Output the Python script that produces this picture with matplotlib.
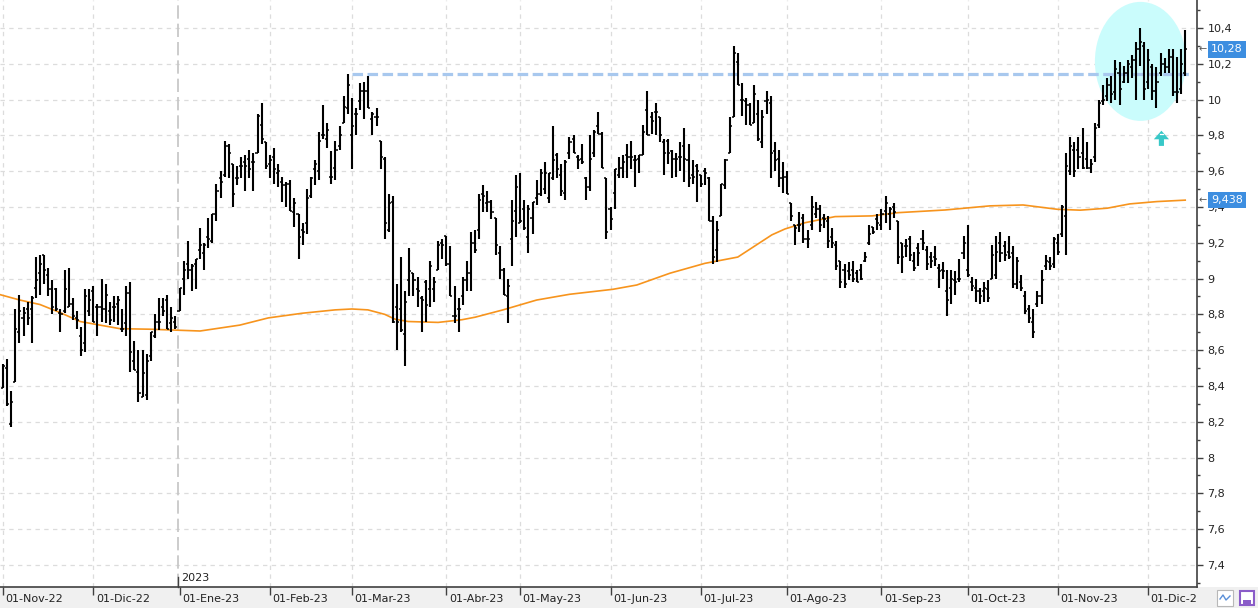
import matplotlib
matplotlib.use("Agg")
import matplotlib.pyplot as plt
from matplotlib.patches import Ellipse, FancyArrow, Rectangle
import numpy as np
import pandas as pd

# sesiones (BME): dias habiles sin festivos
festivos = ["2022-12-26", "2023-04-07", "2023-04-10", "2023-05-01"]
fechas = pd.bdate_range("2022-11-01", "2023-12-14")
fechas = fechas[~fechas.isin(pd.to_datetime(festivos))]

maximos = [
    8.52, 8.55, 8.37, 8.83, 8.91, 8.84, 8.87, 8.90, 9.12, 9.13, 9.13, 9.06, 8.99, 8.95, 8.83, 9.05, 9.06, 8.89, 8.82, 8.73,
    8.94, 8.94, 8.96, 8.86, 9.00, 8.97, 8.87, 8.90, 8.90, 8.83, 8.96, 8.98, 8.65, 8.60, 8.60, 8.58, 8.70, 8.80, 8.89, 8.89,
    8.91, 8.84, 8.79, 8.95, 9.10, 9.21, 9.08, 9.11, 9.28, 9.20, 9.34, 9.36, 9.53, 9.60, 9.77, 9.75, 9.64, 9.63, 9.68, 9.69,
    9.72, 9.70, 9.92, 9.98, 9.76, 9.69, 9.73, 9.64, 9.57, 9.54, 9.55, 9.45, 9.36, 9.31, 9.50, 9.57, 9.66, 9.82, 9.97, 9.87,
    9.71, 9.77, 9.85, 10.02, 10.14, 10.01, 9.95, 10.09, 10.10, 10.13, 9.93, 9.95, 9.77, 9.68, 9.47, 9.46, 8.97, 9.12, 8.93, 9.17,
    9.03, 9.01, 8.90, 8.99, 9.10, 9.01, 9.21, 9.22, 9.24, 9.18, 8.96, 8.89, 9.01, 9.10, 9.26, 9.27, 9.47, 9.52, 9.49, 9.44,
    9.34, 9.18, 9.06, 9.00, 9.44, 9.58, 9.59, 9.44, 9.41, 9.43, 9.55, 9.61, 9.65, 9.59, 9.85, 9.70, 9.64, 9.66, 9.79, 9.80,
    9.69, 9.75, 9.57, 9.80, 9.83, 9.93, 9.82, 9.56, 9.40, 9.61, 9.68, 9.69, 9.75, 9.77, 9.69, 9.69, 9.86, 10.05, 9.93, 9.98,
    9.90, 9.78, 9.78, 9.72, 9.70, 9.76, 9.84, 9.75, 9.66, 9.64, 9.58, 9.62, 9.57, 9.35, 9.32, 9.53, 9.67, 9.90, 10.30, 10.26,
    10.09, 10.01, 9.98, 10.08, 10.00, 9.94, 10.05, 10.02, 9.76, 9.72, 9.65, 9.60, 9.42, 9.30, 9.37, 9.36, 9.27, 9.46, 9.43, 9.41,
    9.36, 9.35, 9.28, 9.21, 9.10, 9.08, 9.09, 9.10, 9.05, 9.08, 9.15, 9.30, 9.29, 9.36, 9.39, 9.46, 9.40, 9.42, 9.32, 9.20,
    9.22, 9.24, 9.15, 9.20, 9.27, 9.18, 9.15, 9.18, 9.08, 9.09, 9.05, 9.05, 9.04, 9.11, 9.24, 9.30, 9.01, 9.00, 8.95, 8.98,
    8.99, 9.19, 9.24, 9.26, 9.21, 9.24, 9.18, 9.12, 9.02, 8.93, 8.85, 8.83, 8.93, 9.05, 9.13, 9.12, 9.23, 9.25, 9.41, 9.70,
    9.79, 9.76, 9.79, 9.84, 9.76, 9.67, 9.87, 10.00, 10.08, 10.12, 10.13, 10.22, 10.21, 10.19, 10.22, 10.25, 10.32, 10.40, 10.32, 10.28,
    10.20, 10.18, 10.26, 10.23, 10.28, 10.28, 10.24, 10.28, 10.39,
]
minimos = [
    8.39, 8.29, 8.17, 8.42, 8.64, 8.68, 8.74, 8.64, 8.89, 8.91, 8.97, 8.90, 8.80, 8.82, 8.70, 8.81, 8.84, 8.77, 8.72, 8.57,
    8.59, 8.79, 8.76, 8.68, 8.76, 8.75, 8.74, 8.76, 8.74, 8.70, 8.68, 8.48, 8.49, 8.31, 8.34, 8.32, 8.54, 8.67, 8.71, 8.79,
    8.72, 8.70, 8.72, 8.82, 8.91, 9.00, 8.93, 8.94, 9.11, 9.05, 9.17, 9.20, 9.32, 9.45, 9.57, 9.56, 9.40, 9.52, 9.56, 9.49,
    9.56, 9.49, 9.70, 9.75, 9.61, 9.56, 9.53, 9.51, 9.43, 9.40, 9.38, 9.29, 9.11, 9.19, 9.25, 9.45, 9.52, 9.55, 9.78, 9.73,
    9.53, 9.55, 9.72, 9.87, 9.92, 9.61, 9.80, 9.94, 9.89, 9.95, 9.80, 9.85, 9.61, 9.22, 9.26, 8.75, 8.60, 8.70, 8.51, 8.90,
    8.90, 8.84, 8.70, 8.76, 8.84, 8.87, 9.05, 9.11, 9.07, 8.90, 8.75, 8.70, 8.85, 8.93, 8.93, 9.14, 9.22, 9.37, 9.37, 9.33,
    9.13, 9.00, 8.91, 8.75, 9.07, 9.23, 9.31, 9.27, 9.14, 9.25, 9.41, 9.46, 9.47, 9.42, 9.55, 9.56, 9.46, 9.44, 9.67, 9.70,
    9.61, 9.64, 9.44, 9.49, 9.68, 9.81, 9.62, 9.22, 9.27, 9.39, 9.56, 9.56, 9.56, 9.61, 9.51, 9.59, 9.69, 9.80, 9.81, 9.80,
    9.76, 9.58, 9.64, 9.56, 9.57, 9.60, 9.54, 9.51, 9.53, 9.43, 9.51, 9.52, 9.32, 9.08, 9.09, 9.35, 9.50, 9.70, 9.90, 10.08,
    9.91, 9.86, 9.86, 9.87, 9.77, 9.73, 9.92, 9.56, 9.60, 9.51, 9.48, 9.47, 9.32, 9.19, 9.26, 9.20, 9.17, 9.27, 9.34, 9.26,
    9.28, 9.17, 9.17, 9.05, 8.95, 8.95, 8.99, 8.98, 8.98, 8.99, 9.09, 9.19, 9.25, 9.27, 9.27, 9.31, 9.27, 9.34, 9.08, 9.03,
    9.12, 9.10, 9.04, 9.07, 9.16, 9.05, 9.06, 9.07, 8.95, 9.00, 8.79, 8.86, 8.91, 8.98, 9.11, 9.01, 8.93, 8.87, 8.86, 8.87,
    8.87, 9.00, 9.00, 9.09, 9.10, 9.11, 8.95, 8.94, 8.93, 8.80, 8.75, 8.67, 8.84, 8.86, 9.05, 9.05, 9.06, 9.13, 9.23, 9.13,
    9.58, 9.57, 9.61, 9.61, 9.61, 9.59, 9.65, 9.84, 9.97, 9.99, 9.98, 10.00, 9.97, 10.09, 10.09, 10.12, 10.00, 10.19, 10.00, 10.06,
    10.00, 9.95, 10.13, 10.15, 10.15, 10.02, 9.98, 10.03, 10.13,
]
aperturas = [
    8.39, 8.50, 8.19, 8.42, 8.70, 8.78, 8.83, 8.83, 8.95, 9.03, 9.13, 9.02, 8.94, 8.94, 8.81, 8.82, 8.84, 8.86, 8.78, 8.68,
    8.64, 8.82, 8.93, 8.84, 8.84, 8.83, 8.82, 8.84, 8.86, 8.72, 8.75, 8.92, 8.54, 8.48, 8.34, 8.35, 8.57, 8.68, 8.76, 8.84,
    8.88, 8.75, 8.76, 8.82, 9.00, 9.08, 9.05, 9.08, 9.16, 9.14, 9.23, 9.21, 9.36, 9.56, 9.58, 9.74, 9.64, 9.56, 9.63, 9.65,
    9.67, 9.65, 9.70, 9.86, 9.76, 9.64, 9.68, 9.59, 9.54, 9.52, 9.53, 9.37, 9.36, 9.27, 9.31, 9.46, 9.61, 9.60, 9.80, 9.78,
    9.57, 9.62, 9.74, 9.87, 9.95, 9.80, 9.92, 9.99, 10.05, 10.05, 9.89, 9.90, 9.77, 9.67, 9.27, 9.43, 8.84, 8.83, 8.69, 8.99,
    9.03, 8.94, 8.89, 8.98, 8.94, 8.94, 9.05, 9.20, 9.24, 9.08, 8.79, 8.83, 8.90, 8.99, 9.03, 9.20, 9.27, 9.47, 9.42, 9.43,
    9.34, 9.14, 9.05, 8.90, 9.22, 9.38, 9.31, 9.39, 9.23, 9.34, 9.45, 9.47, 9.50, 9.45, 9.56, 9.69, 9.58, 9.48, 9.70, 9.78,
    9.68, 9.67, 9.56, 9.51, 9.70, 9.85, 9.81, 9.56, 9.39, 9.48, 9.58, 9.62, 9.69, 9.68, 9.66, 9.67, 9.69, 9.94, 9.90, 9.93,
    9.90, 9.76, 9.77, 9.71, 9.67, 9.68, 9.74, 9.66, 9.58, 9.63, 9.58, 9.60, 9.56, 9.32, 9.16, 9.35, 9.52, 9.70, 9.90, 10.21,
    10.00, 9.99, 9.97, 9.87, 9.92, 9.76, 9.99, 9.98, 9.71, 9.67, 9.56, 9.57, 9.42, 9.30, 9.30, 9.34, 9.22, 9.30, 9.36, 9.39,
    9.34, 9.32, 9.23, 9.19, 9.10, 9.05, 9.04, 9.05, 9.03, 9.05, 9.10, 9.20, 9.29, 9.33, 9.30, 9.38, 9.36, 9.40, 9.32, 9.20,
    9.18, 9.22, 9.10, 9.17, 9.22, 9.16, 9.12, 9.12, 9.06, 9.05, 8.93, 8.95, 8.99, 9.00, 9.14, 9.05, 8.98, 8.95, 8.93, 8.93,
    8.94, 9.00, 9.02, 9.20, 9.18, 9.15, 9.14, 8.97, 8.98, 8.90, 8.83, 8.76, 8.86, 8.90, 9.07, 9.09, 9.08, 9.20, 9.25, 9.35,
    9.60, 9.72, 9.72, 9.70, 9.67, 9.62, 9.68, 9.86, 9.99, 10.02, 10.08, 10.04, 10.15, 10.10, 10.15, 10.18, 10.22, 10.28, 10.30, 10.10,
    10.18, 10.05, 10.15, 10.20, 10.18, 10.24, 10.04, 10.06, 10.15,
]
cierres = [
    8.51, 8.30, 8.31, 8.72, 8.82, 8.81, 8.78, 8.89, 8.99, 9.08, 9.05, 8.94, 8.84, 8.83, 8.80, 8.94, 8.86, 8.79, 8.77, 8.60,
    8.90, 8.88, 8.76, 8.84, 8.83, 8.91, 8.77, 8.84, 8.88, 8.72, 8.92, 8.59, 8.49, 8.36, 8.47, 8.54, 8.70, 8.76, 8.76, 8.82,
    8.72, 8.78, 8.73, 8.95, 9.05, 9.05, 9.07, 9.11, 9.19, 9.19, 9.22, 9.36, 9.49, 9.54, 9.74, 9.70, 9.47, 9.56, 9.63, 9.63,
    9.61, 9.65, 9.91, 9.78, 9.63, 9.66, 9.61, 9.60, 9.52, 9.53, 9.38, 9.42, 9.23, 9.26, 9.45, 9.56, 9.64, 9.77, 9.80, 9.83,
    9.57, 9.72, 9.80, 9.96, 10.08, 9.85, 9.92, 10.05, 10.05, 9.95, 9.92, 9.90, 9.68, 9.31, 9.42, 8.76, 8.76, 8.71, 8.87, 9.04,
    8.99, 8.93, 8.88, 8.85, 9.07, 8.98, 9.19, 9.19, 9.08, 8.90, 8.79, 8.83, 8.99, 9.03, 9.20, 9.16, 9.44, 9.46, 9.43, 9.37,
    9.19, 9.05, 8.91, 8.96, 9.32, 9.51, 9.32, 9.28, 9.39, 9.43, 9.47, 9.59, 9.59, 9.59, 9.66, 9.61, 9.49, 9.65, 9.76, 9.70,
    9.66, 9.65, 9.51, 9.67, 9.82, 9.81, 9.62, 9.26, 9.33, 9.61, 9.62, 9.65, 9.68, 9.68, 9.66, 9.69, 9.82, 9.80, 9.88, 9.93,
    9.80, 9.70, 9.70, 9.67, 9.67, 9.68, 9.67, 9.56, 9.57, 9.60, 9.53, 9.59, 9.32, 9.12, 9.27, 9.53, 9.66, 9.85, 10.26, 10.08,
    10.00, 9.97, 9.86, 10.03, 9.78, 9.90, 10.00, 9.70, 9.66, 9.56, 9.57, 9.47, 9.35, 9.28, 9.30, 9.22, 9.22, 9.40, 9.39, 9.30,
    9.33, 9.21, 9.20, 9.07, 8.98, 8.97, 9.02, 9.00, 8.98, 9.00, 9.12, 9.25, 9.26, 9.31, 9.36, 9.42, 9.39, 9.37, 9.12, 9.12,
    9.18, 9.13, 9.06, 9.14, 9.20, 9.08, 9.10, 9.11, 9.04, 9.04, 8.88, 9.00, 8.98, 9.00, 9.20, 9.02, 8.96, 8.93, 8.90, 8.95,
    8.89, 9.13, 9.15, 9.14, 9.13, 9.12, 8.97, 9.10, 8.95, 8.82, 8.78, 8.70, 8.90, 8.99, 9.10, 9.07, 9.22, 9.15, 9.40, 9.63,
    9.74, 9.60, 9.68, 9.62, 9.62, 9.64, 9.84, 9.98, 10.00, 10.08, 10.03, 10.17, 10.06, 10.15, 10.20, 10.22, 10.28, 10.32, 10.06, 10.22,
    10.05, 10.10, 10.20, 10.18, 10.24, 10.04, 10.04, 10.20, 10.28,
]

media_sesion = [-0.7, 4.1, 9, 13.9, 18.8, 23.6, 28.5, 35.8, 48, 57.7, 64.6, 72.8, 80.9, 85, 88.9, 93, 95.5,
                98.7, 106, 111.8, 115, 121.8, 130, 138, 148.6, 154.4, 162.5, 171, 179, 187.3, 190.5, 195.4,
                202.7, 211.7, 218, 229.5, 240.4, 248.5, 256.8, 262.4, 269, 274.5, 281.1, 288]
media_valor = [8.91, 8.88, 8.855, 8.81, 8.76, 8.74, 8.72, 8.717, 8.707, 8.74, 8.78, 8.806, 8.825, 8.83, 8.825,
               8.80, 8.773, 8.76, 8.755, 8.77, 8.784, 8.825, 8.88, 8.912, 8.94, 8.964, 9.03, 9.085, 9.12, 9.244,
               9.277, 9.312, 9.346, 9.35, 9.368, 9.383, 9.406, 9.411, 9.387, 9.382, 9.393, 9.417, 9.43, 9.438]

resistencia = 10.143
ultimo = 10.28
ultima_media = 9.438
meses = ["Ene", "Feb", "Mar", "Abr", "May", "Jun", "Jul", "Ago", "Sep", "Oct", "Nov", "Dic"]

n = min(len(fechas), len(maximos), len(minimos), len(aperturas), len(cierres))
x = np.arange(n)
fechas = fechas[:n]

W, H = 1258, 608
fig = plt.figure(figsize=(W / 100, H / 100), dpi=100)
fig.patch.set_facecolor("white")

# banda gris inferior (debajo de los ejes)
fig.patches.append(Rectangle((0, 0), 1, 21 / H, transform=fig.transFigure,
                             fc="#f0f0f0", ec="none", zorder=-1))

ax = fig.add_axes([0, 21 / H, 1197 / W, 587 / H])
ax.patch.set_alpha(0)
ax.set_xlim(-0.73, 290.87)
ax.set_ylim(7.277, 10.556)

# las fechas se cortan en el eje derecho
recorte = Rectangle((0, 0), 1196 / W, 1, transform=fig.transFigure, fc="none", ec="none")

# rejilla horizontal
yt = np.round(np.arange(7.4, 10.41, 0.2), 1)
for v in yt:
    ax.axhline(v, color="#dcdcdc", lw=0.9, ls=(0, (3.5, 3.5)), zorder=0)

# inicio de cada mes
cambio = [0] + [i for i in range(1, n) if fechas[i].month != fechas[i - 1].month]
for i in cambio:
    f = fechas[i]
    if f.month == 1:
        ax.axvline(i - 0.3, color="#c4c4c4", lw=1.2, ls=(0, (8, 3)), zorder=0)
        ax.plot([i - 0.3, i - 0.3], [0, 10 / 587], color="#404040", lw=1.0,
                transform=ax.get_xaxis_transform(), clip_on=False)
        ax.text(i + 0.3, 0.016, str(f.year), transform=ax.get_xaxis_transform(),
                fontsize=8, color="#222222", va="center", ha="left")
    else:
        ax.axvline(i, color="#dcdcdc", lw=0.9, ls=(0, (3.5, 3.5)), zorder=0)
    t = ax.text(i + 0.6, -0.021, "01-%s-%s" % (meses[f.month - 1], str(f.year)[2:]),
                transform=ax.get_xaxis_transform(), fontsize=8, color="#222222",
                va="center", ha="left")
    t.set_clip_on(True)
    t.set_clip_box(None)
    t.set_clip_path(recorte)

ax.set_xticks(cambio)
ax.set_xticklabels([])
ax.tick_params(axis="x", direction="out", length=6, width=1.0, color="#404040")

# elipse de la zona de maximos
ax.add_patch(Ellipse((277.1, 10.213), 22.2, 0.665, fc="#cafcfc", ec="none", zorder=1))

# resistencia
ax.plot([85, 289.2], [resistencia, resistencia], color="#a8c8ee", lw=2.3,
        dashes=(3.3, 1.4), zorder=2, solid_capstyle="butt")

# media movil
ax.plot(media_sesion, media_valor, color="#f7941d", lw=1.2, zorder=2)

# barras OHLC
ax.vlines(x, minimos[:n], maximos[:n], color="black", lw=1.5, zorder=3)
ax.hlines(aperturas[:n], x - 0.5, x, color="black", lw=1.1, zorder=3)
ax.hlines(cierres[:n], x, x + 0.5, color="black", lw=1.1, zorder=3)

# flecha
ax.add_patch(FancyArrow(282.2, 9.741, 0, 0.085, width=1.25, head_width=3.7, head_length=0.048,
                        length_includes_head=True, fc="#38c8c8", ec="none", zorder=4))
ax.plot([281.8, 282.6], [9.808, 9.808], color="white", lw=0.9, zorder=5)

# eje derecho
ax.yaxis.tick_right()
ax.set_yticks(yt)
ax.set_yticklabels([("%g" % v).replace(".", ",") for v in yt])
ax.set_yticks(np.round(np.arange(7.3, 10.51, 0.2), 1), minor=True)
ax.tick_params(axis="y", which="major", direction="out", length=4.5, width=1.0,
               color="#404040", labelsize=8, labelcolor="#222222", pad=3)
ax.tick_params(axis="y", which="minor", direction="out", length=2.5, width=1.0, color="#404040")
for s in ["top", "left"]:
    ax.spines[s].set_visible(False)
for s in ["right", "bottom"]:
    ax.spines[s].set_color("#404040")
    ax.spines[s].set_linewidth(1.2)

# etiquetas de ultimo valor
for val, txt in [(ultimo, "10,28"), (ultima_media, "9,438")]:
    ax.text(1.0012, val, "\u2190", transform=ax.get_yaxis_transform(), fontsize=7,
            color="#555555", va="center", ha="left", clip_on=False)
    ax.text(1.0115, val, txt, transform=ax.get_yaxis_transform(), fontsize=8,
            color="white", va="center", ha="left", clip_on=False, zorder=6,
            bbox=dict(boxstyle="square,pad=0.28", fc="#3d8ee0", ec="none"))

# iconos de la esquina
fig.patches.append(Rectangle((1217 / W, 2 / H), 16 / W, 16 / H, transform=fig.transFigure,
                             fc="white", ec="#b8b8b8", lw=0.8, zorder=2))
fig.lines.append(plt.Line2D([1220 / W, 1223 / W, 1226 / W, 1230 / W], [9 / H, 13 / H, 8 / H, 12 / H],
                            transform=fig.transFigure, color="#5a8fd8", lw=1.0, zorder=3))
fig.patches.append(Rectangle((1240 / W, 3 / H), 14 / W, 14 / H, transform=fig.transFigure,
                             fc="white", ec="#8a5cc8", lw=1.5, zorder=2))
fig.patches.append(Rectangle((1243 / W, 3 / H), 8 / W, 5 / H, transform=fig.transFigure,
                             fc="#8a5cc8", ec="none", zorder=3))

fig.savefig("out.png", dpi=100)
